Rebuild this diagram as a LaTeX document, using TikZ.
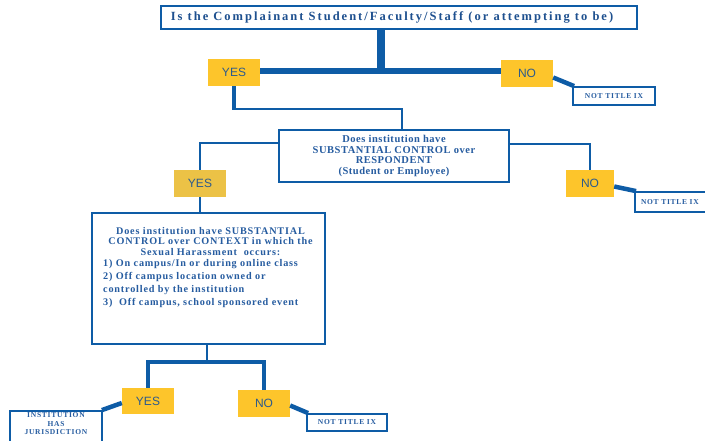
\documentclass[tikz,border=0pt]{standalone}
\usepackage{fontspec}
\setmainfont{Liberation Serif}
\newfontfamily\titlefont[LetterSpace=16]{Liberation Serif}
\newfontfamily\boxfont[LetterSpace=5]{Liberation Serif}
\newfontfamily\listfont[LetterSpace=8]{Liberation Serif}
\newfontfamily\tagfont[LetterSpace=10]{Liberation Serif}
\newfontfamily\answerfont{Liberation Sans}

\definecolor{flowblue}{RGB}{14,92,166}
\definecolor{textblue}{RGB}{38,92,160}
\definecolor{titleblue}{RGB}{30,80,143}
\definecolor{answertext}{RGB}{44,90,140}
\definecolor{ansyellow}{RGB}{253,197,43}
\definecolor{ansmuted}{RGB}{236,194,70}

\begin{document}
\begin{tikzpicture}[x=1pt,y=-1pt,
  answer/.style={fill=ansyellow, text=answertext,
    font=\answerfont\fontsize{12}{12}\selectfont,
    minimum width=52pt, minimum height=27pt, inner sep=0pt},
  qbox/.style={draw=flowblue, line width=2pt, fill=white, text=textblue,
    align=center, inner sep=0pt},
  tagbox/.style={draw=flowblue, line width=1.8pt, fill=white, text=textblue,
    font=\tagfont\bfseries\fontsize{7.5}{7.5}\selectfont, inner sep=0pt},
  boxtext/.style={text=textblue, inner sep=0pt},
  heavy/.style={draw=flowblue, line width=6.5pt},
  medium/.style={draw=flowblue, line width=4.5pt},
  light/.style={draw=flowblue, line width=2pt},
]
\useasboundingbox (0,0) rectangle (705,440);
\clip (0,0) rectangle (705,440);

% ---- question boxes ----
\node[qbox, minimum width=476pt, minimum height=23pt, text=titleblue,
  font=\titlefont\bfseries\fontsize{12.5}{13}\selectfont] (title) at (399,17.5)
  {Is the Complainant Student/Faculty/Staff (or attempting to be)\hspace*{14pt}};

\node[qbox, minimum width=230pt, minimum height=52pt,
  font=\boxfont\bfseries\fontsize{10.5}{10.5}\selectfont] (q2) at (394,156)
  {Does institution have\\SUBSTANTIAL CONTROL over\\RESPONDENT\\(Student or Employee)};

\node[qbox, minimum width=233pt, minimum height=131pt] (q3) at (208.5,278.5) {};
\node[boxtext, align=center, font=\listfont\bfseries\fontsize{10.2}{10.6}\selectfont]
  (q3head) at (210.5,241.5)
  {Does institution have SUBSTANTIAL\\CONTROL over CONTEXT in which the\\Sexual Harassment\ \ occurs:};
\node[boxtext, align=left, anchor=west, font=\listfont\bfseries\fontsize{10.2}{13}\selectfont]
  (q3list) at (103,284)
  {1) On campus/In or during online class\\2) Off campus location owned or\\controlled by the institution\\3)\ \ Off campus, school sponsored event};

% ---- answers ----
\node[answer] (yes1) at (234,72.5) {YES};
\node[answer] (no1)  at (527,73.5) {NO};
\node[answer, minimum width=48pt] (no2) at (590,183.5) {NO};
\node[answer, fill=ansmuted] (yes2) at (200,183.5) {YES};
\node[answer, minimum height=26pt] (yes3) at (148,401) {YES};
\node[answer] (no3)  at (264,403.5) {NO};

% ---- outcomes ----
\node[tagbox, minimum width=82pt, minimum height=18pt] (nt1) at (614,96) {NOT TITLE IX};
\node[tagbox, minimum width=77pt, minimum height=20pt, text width=77pt, align=left] (nt2) at (673.5,202) {\hspace*{6pt}NOT TITLE IX};
\node[tagbox, minimum width=80pt, minimum height=17pt] (nt3) at (347,422.5) {NOT TITLE IX};
\node[tagbox, minimum width=92pt, minimum height=37pt] (jur) at (56,429.5) {};
\node[boxtext, align=center, font=\tagfont\bfseries\fontsize{7.5}{8.5}\selectfont]
  (jurtext) at (56,424) {INSTITUTION\\HAS\\JURISDICTION};

% ---- connectors ----
\coordinate (j1) at (381,71);
\draw[line width=7.5pt, flowblue] (title.south -| j1) -- (j1);
\draw[heavy] (yes1.east |- j1) -- (no1.west |- j1);

\coordinate (j2) at (402,109);
\draw[medium] (yes1.south) -- ([yshift=-1pt]yes1.south |- j2);
\draw[light] (yes1.south |- j2) -- (j2) -- (j2 |- q2.north);

\coordinate (j3) at (590,144);
\draw[light] (q2.east |- j3) -- (j3) -- (no2.north);

\coordinate (j4) at (200,143);
\draw[light] (q2.west |- j4) -- (j4) -- (yes2.north);
\draw[light] (yes2.south) -- (yes2.south |- q3.north);

\coordinate (j5) at (207,362);
\draw[light] (q3.south -| j5) -- (j5);
\draw[medium] (yes3.north) |- (j5) -| (no3.north);

\draw[medium] ([yshift=-4pt]no1.east) -- ([xshift=2pt]nt1.north west);
\draw[medium] ([yshift=-3pt]no2.east) -- ([xshift=2pt]nt2.north west);
\draw[medium] ([yshift=-2pt]yes3.west) -- ([xshift=-1pt]jur.north east);
\draw[medium] ([yshift=-2pt]no3.east) -- ([xshift=2pt]nt3.north west);
\end{tikzpicture}
\end{document}
